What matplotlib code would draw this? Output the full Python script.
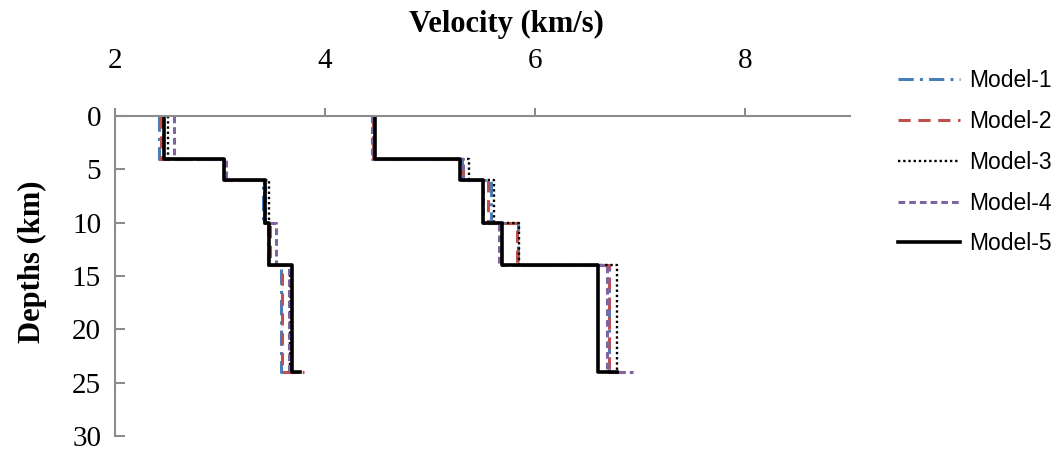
import matplotlib
matplotlib.use("Agg")
import matplotlib.pyplot as plt

# layer boundaries (km); last value of each list is the half-space
depths = [0, 4, 6, 10, 14, 24]

vs_m1 = [2.42, 3.04, 3.41, 3.46, 3.58, 3.62]
vs_m2 = [2.44, 3.04, 3.42, 3.48, 3.59, 3.80]
vs_m3 = [2.50, 3.04, 3.47, 3.47, 3.67, 3.72]
vs_m4 = [2.56, 3.06, 3.43, 3.53, 3.66, 3.74]
vs_m5 = [2.47, 3.04, 3.43, 3.47, 3.69, 3.76]

vp_m1 = [4.46, 5.30, 5.58, 5.84, 6.70, 6.80]
vp_m2 = [4.46, 5.31, 5.55, 5.83, 6.70, 6.85]
vp_m3 = [4.48, 5.37, 5.61, 5.85, 6.78, 6.80]
vp_m4 = [4.45, 5.31, 5.50, 5.66, 6.69, 6.93]
vp_m5 = [4.48, 5.29, 5.50, 5.69, 6.60, 6.78]

labels = ["Model-1", "Model-2", "Model-3", "Model-4", "Model-5"]
x_ticks = [2, 4, 6, 8]
y_ticks = [0, 5, 10, 15, 20, 25, 30]


def step(v):
    xs, ys = [], []
    for i in range(len(depths) - 1):
        xs += [v[i], v[i]]
        ys += [depths[i], depths[i + 1]]
    xs.append(v[-1])
    ys.append(depths[-1])
    return xs, ys


styles = [
    dict(color="#4A7EBB", ls=(0, (5, 2, 1, 2)), lw=2.2),
    dict(color="#C0504D", ls=(0, (4, 2.5)), lw=2.2),
    dict(color="black", ls=(0, (1, 1.2)), lw=1.7),
    dict(color="#8064A2", ls=(0, (2.2, 1.3)), lw=2.2),
    dict(color="black", ls="-", lw=2.6),
]

fig = plt.figure(figsize=(10.62, 4.55), dpi=100)
ax = fig.add_axes([115 / 1062, 19 / 455, 735 / 1062, 320 / 455])

vs_all = [vs_m1, vs_m2, vs_m3, vs_m4, vs_m5]
vp_all = [vp_m1, vp_m2, vp_m3, vp_m4, vp_m5]
for k in range(5):
    xs, ys = step(vs_all[k])
    ax.plot(xs, ys, label=labels[k], **styles[k])
    xs, ys = step(vp_all[k])
    ax.plot(xs, ys, **styles[k])

ax.set_xlim(2, 9)
ax.set_ylim(30, 0)
ax.xaxis.tick_top()
ax.set_xticks(x_ticks)
ax.set_yticks(y_ticks)
for sp in ["right", "bottom"]:
    ax.spines[sp].set_visible(False)
for sp in ["left", "top"]:
    ax.spines[sp].set_color("#8c8c8c")
    ax.spines[sp].set_linewidth(1.5)
ax.tick_params(axis="x", direction="out", length=6, width=1.5, color="#8c8c8c", pad=24)
ax.tick_params(axis="y", direction="in", length=7, width=1.5, color="#8c8c8c", pad=10)
for t in ax.get_xticklabels() + ax.get_yticklabels():
    t.set_fontfamily("Liberation Serif")
    t.set_fontsize(21)

fig.text(506 / 1062, 1 - 24 / 455, "Velocity (km/s)", ha="center", va="center",
         fontfamily="Liberation Serif", fontweight="bold", fontsize=22)
fig.text(32 / 1062, 1 - 262 / 455, "Depths (km)", ha="center", va="center", rotation=90,
         fontfamily="Liberation Serif", fontweight="bold", fontsize=22)

leg = ax.legend(loc="upper left", bbox_to_anchor=(898 / 1062, 1 - 69 / 455),
                bbox_transform=fig.transFigure, frameon=False, borderpad=0,
                borderaxespad=0, handlelength=2.7, handletextpad=0.4,
                labelspacing=0.78, prop={"family": "Liberation Sans", "size": 16.5})

fig.savefig("out.png", dpi=100)
